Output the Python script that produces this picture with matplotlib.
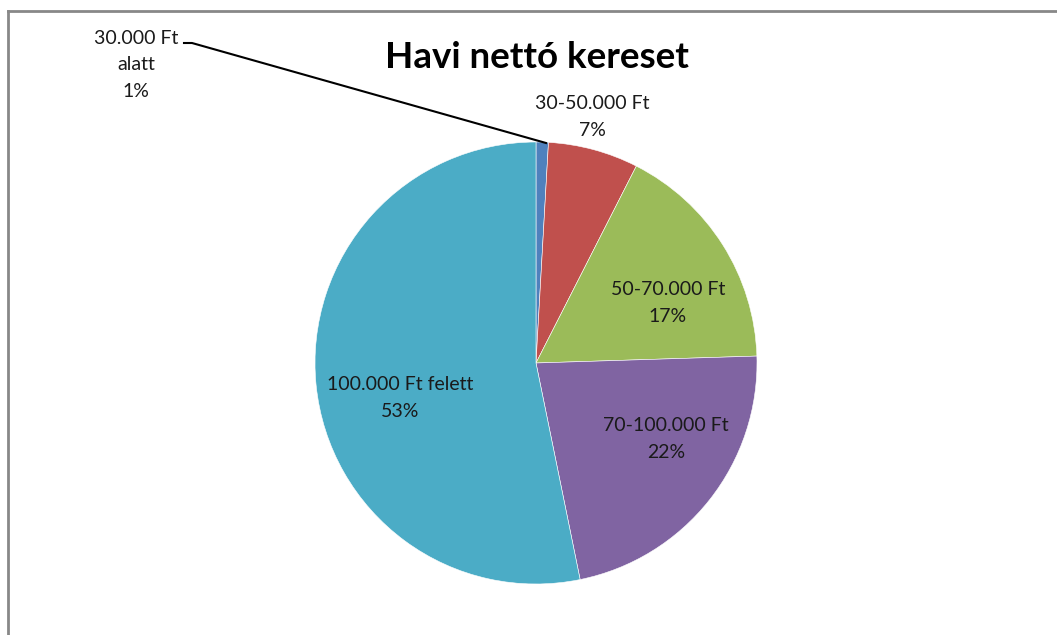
import matplotlib.pyplot as plt
from matplotlib.lines import Line2D

# data (percent of respondents)
categories = ['30.000 Ft\nalatt', '30-50.000 Ft', '50-70.000 Ft', '70-100.000 Ft', '100.000 Ft felett']
values = [0.9, 6.6, 17.0, 22.3, 53.2]
pct_labels = ['1%', '7%', '17%', '22%', '53%']
colors = ['#4F81BD', '#C0504D', '#9BBB59', '#8064A2', '#4BACC6']

W, H = 1057, 635
fig = plt.figure(figsize=(W / 100, H / 100), dpi=100)

def fx(x):
    return x / W

def fy(y):
    return 1 - y / H

# pie area: center (536, 363), radius 221 px
cx, cy, r = 536, 363, 221
ax = fig.add_axes([fx(cx - r), fy(cy + r), 2 * r / W, 2 * r / H])
ax.pie(values, colors=colors, startangle=90, counterclock=False,
       wedgeprops=dict(linewidth=0.4, edgecolor='white'))
ax.set_xlim(-1, 1)
ax.set_ylim(-1, 1)
ax.set_aspect('equal')
ax.axis('off')

# chart frame (only top and left edges are visible)
fig.add_artist(Line2D([fx(8), fx(W + 5)], [fy(11), fy(11)], color='#888888', lw=2))
fig.add_artist(Line2D([fx(8), fx(8)], [fy(11), fy(H + 5)], color='#888888', lw=2))

fig.text(fx(537), fy(57), 'Havi nettó kereset', ha='center', va='center',
         fontsize=26.5, fontweight='bold', family='Lato', color='black')

lab_font = dict(family='Lato', fontsize=14, color='#1a1a1a', linespacing=1.65)
label_pos = [(136, 65), (592, 117), (668, 303), (666, 439), (400, 398)]
for cat, pct, (lx, ly) in zip(categories, pct_labels, label_pos):
    fig.text(fx(lx), fy(ly), cat + '\n' + pct, ha='center', va='center', **lab_font)

# leader line for the smallest slice
fig.add_artist(Line2D([fx(184), fx(192), fx(546)], [fy(43), fy(43), fy(143)],
                      color='black', lw=1.5))

fig.savefig('out.png', dpi=100)
